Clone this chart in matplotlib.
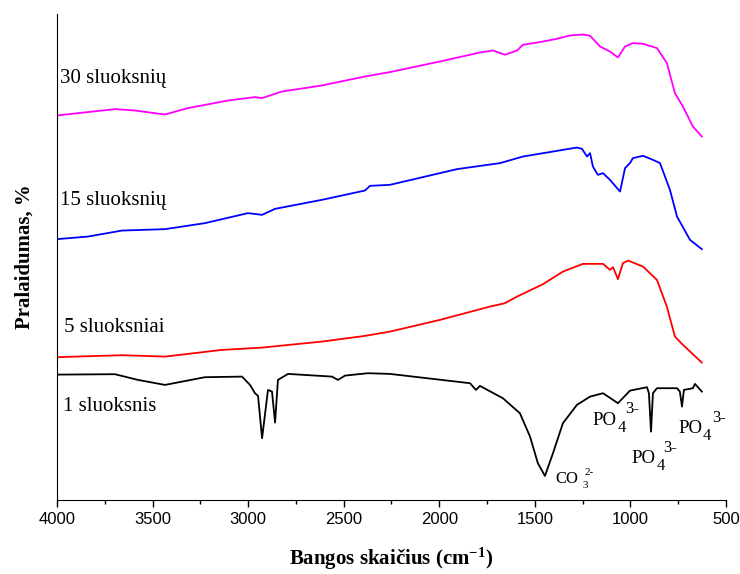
import matplotlib
matplotlib.use("Agg")
import matplotlib.pyplot as plt
from matplotlib.ticker import MultipleLocator

plt.rcParams["font.family"] = "Liberation Serif"
plt.rcParams["mathtext.fontset"] = "custom"
plt.rcParams["mathtext.rm"] = "Liberation Serif"
plt.rcParams["mathtext.it"] = "Liberation Serif:italic"
plt.rcParams["mathtext.bf"] = "Liberation Serif:bold"

# FTIR spectra, wavenumber (cm-1) vs transmittance (arbitrary, stacked)
wn_30 = [4000, 3697, 3592, 3435, 3315, 3105, 2964, 2927, 2823, 2614, 2389, 2258, 1996,
         1787, 1719, 1656, 1593, 1562, 1473, 1384, 1316, 1248, 1211, 1159, 1107, 1065,
         1028, 987, 934, 861, 809, 767, 725, 673, 626]
t_30 = [384.3, 390.7, 389.3, 385.3, 391.7, 399.3, 402.7, 401.7, 408.3, 414.3, 423.3, 427.7,
        438.3, 447.3, 449.3, 445.0, 449.3, 455.0, 457.7, 461.0, 464.3, 465.3, 464.0, 453.3,
        448.3, 442.3, 453.3, 456.7, 456.0, 451.7, 436.7, 406.7, 393.3, 373.3, 363.3]

wn_15 = [4000, 3838, 3660, 3435, 3226, 3001, 2927, 2859, 2614, 2389, 2362, 2258, 1907,
         1682, 1562, 1436, 1280, 1253, 1227, 1211, 1196, 1170, 1143, 1107, 1054, 1028,
         1002, 987, 934, 882, 845, 793, 756, 688, 626]
t_15 = [260.7, 263.3, 269.3, 270.7, 276.7, 286.7, 285.0, 291.0, 300.0, 309.3, 314.0, 315.0,
        330.7, 336.7, 343.3, 347.3, 352.3, 351.0, 343.3, 346.7, 333.3, 325.0, 326.7, 320.0,
        308.3, 331.7, 336.7, 341.7, 344.0, 340.0, 336.7, 310.0, 283.3, 260.0, 250.7]

wn_5 = [4000, 3660, 3435, 3137, 2927, 2614, 2389, 2258, 1996, 1735, 1656, 1593, 1457,
        1353, 1248, 1143, 1107, 1091, 1065, 1039, 1012, 934, 861, 809, 767, 725, 626]
t_5 = [142.7, 144.7, 143.3, 150.0, 152.3, 158.3, 164.0, 168.3, 180.0, 193.3, 196.7, 203.3,
       215.7, 228.3, 236.0, 236.0, 230.0, 232.7, 220.7, 236.7, 239.3, 233.3, 220.0, 193.3,
       163.3, 155.0, 137.3]

wn_1 = [4000, 3697, 3576, 3435, 3226, 3032, 2990, 2964, 2948, 2927, 2896, 2875, 2859,
        2844, 2791, 2561, 2530, 2493, 2373, 2258, 1839, 1808, 1787, 1667, 1578, 1525,
        1484, 1447, 1405, 1353, 1280, 1211, 1143, 1065, 1002, 913, 903, 892, 882, 861,
        756, 741, 730, 720, 673, 662, 626]
t_1 = [125.3, 125.7, 120.0, 115.0, 122.7, 123.3, 115.0, 106.7, 104.0, 61.7, 110.0, 108.3,
       77.3, 120.0, 126.0, 123.3, 120.0, 124.3, 126.7, 126.0, 116.7, 110.0, 114.0, 101.7,
       86.7, 63.3, 36.7, 24.0, 46.7, 76.7, 95.0, 103.3, 106.7, 96.7, 109.3, 112.7, 106.7,
       68.3, 106.7, 111.7, 111.7, 108.3, 93.3, 110.0, 111.7, 116.0, 108.3]

series = [
    (wn_30, t_30, "#ff00ff", "30 sluoksnių", (3984, 421)),
    (wn_15, t_15, "#0000ff", "15 sluoksnių", (3984, 299)),
    (wn_5, t_5, "#ff0000", "5 sluoksniai", (3963, 172)),
    (wn_1, t_1, "black", "1 sluoksnis", (3969, 93)),
]

# band labels: (base, x, y, sub, sub_x, sub_y, sup, sup_x, sup_y, base_size, small_size)
bands = [
    ("CO", 1395, 17, "3", 1253, 12, "2-", 1238, 25, 12, 8),
    ("PO", 1196, 75, "4", 1065, 68, "3-", 1028, 87, 13.5, 12),
    ("PO", 992, 37, "4", 861, 30, "3-", 830, 48, 13.5, 12),
    ("PO", 751, 67, "4", 620, 60, "3-", 573, 78, 13.5, 12),
]

fig = plt.figure(figsize=(7.4, 5.74), dpi=100)
ax = fig.add_axes([0.077, 0.129, 0.904, 0.847])

for wn, t, color, label, (lx, ly) in series:
    ax.plot(wn, t, color=color, lw=1.3)
    ax.text(lx, ly, label, fontsize=15, va="center", ha="left")

for base, bx, by, sub, sx, sy, sup, px, py, bsize, ssize in bands:
    ax.text(bx, by, base, fontsize=bsize, va="baseline", ha="left", clip_on=False)
    ax.text(sx, sy, sub, fontsize=ssize, va="baseline", ha="left", clip_on=False)
    ax.text(px, py, sup, fontsize=ssize, va="baseline", ha="left", clip_on=False)

ax.set_xlim(4000, 500)
ax.set_ylim(0, 486)
ax.xaxis.set_major_locator(MultipleLocator(500))
ax.xaxis.set_minor_locator(MultipleLocator(250))
ax.set_yticks([])
ax.spines["top"].set_visible(False)
ax.spines["right"].set_visible(False)
ax.tick_params(axis="x", which="major", direction="out", length=5, width=1)
ax.tick_params(axis="x", which="minor", direction="out", length=3, width=1)
for lbl in ax.get_xticklabels():
    lbl.set_fontfamily("Liberation Sans")
    lbl.set_fontsize(12)

ax.set_xlabel(r"Bangos skaičius (cm$^{\mathbf{-1}}$)", fontsize=15, fontweight="bold", labelpad=14)
ax.set_ylabel("Pralaidumas, %", fontsize=15, fontweight="bold", labelpad=16)

fig.savefig("out.png", dpi=100)
